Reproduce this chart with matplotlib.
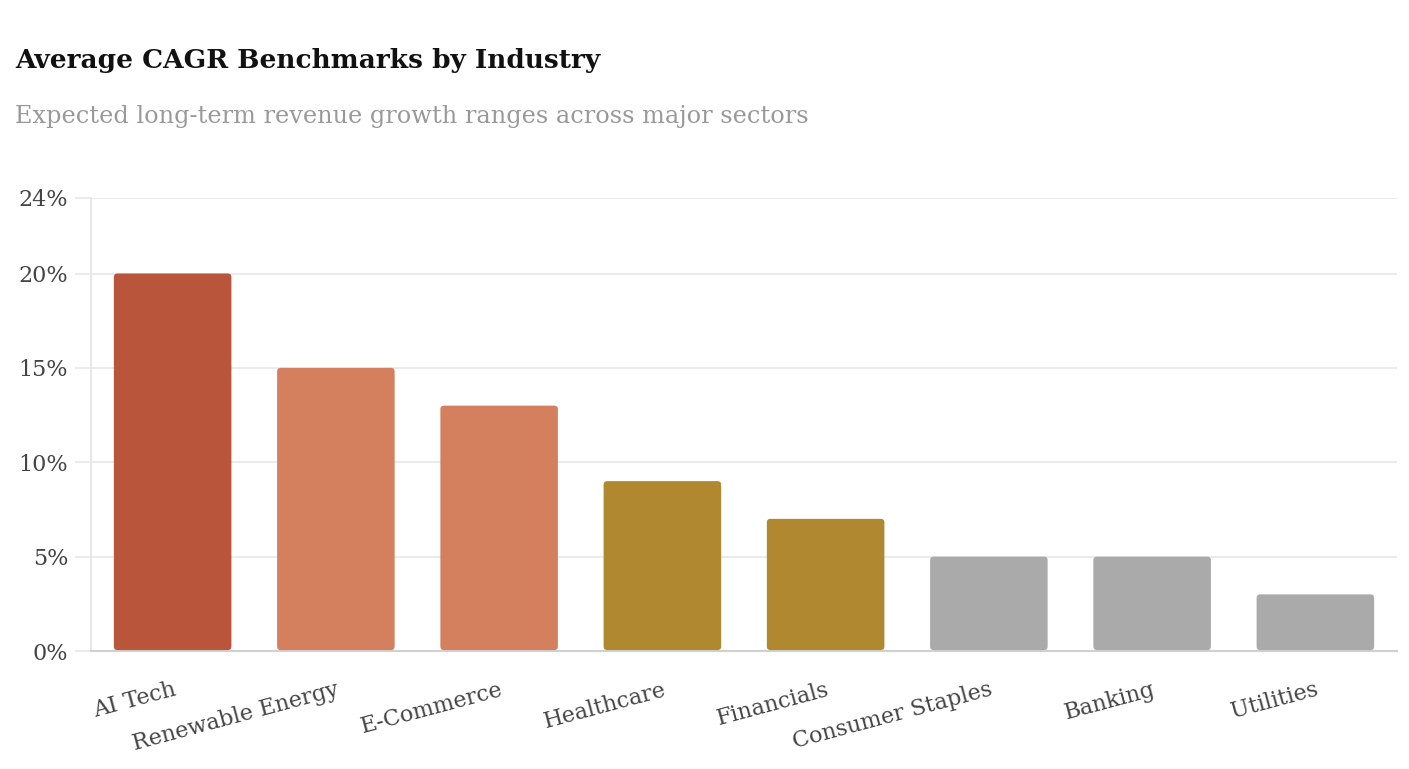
import matplotlib
matplotlib.use('Agg')
import matplotlib.pyplot as plt
from matplotlib.patches import FancyBboxPatch
from matplotlib.ticker import FuncFormatter

industries = ['AI Tech', 'Renewable Energy', 'E-Commerce', 'Healthcare',
              'Financials', 'Consumer Staples', 'Banking', 'Utilities']
cagr = [20, 15, 13, 9, 7, 5, 5, 3]
colors = ['#B9553A', '#D4805F', '#D4805F', '#B08830',
          '#B08830', '#AAAAAA', '#AAAAAA', '#AAAAAA']
yticks = [0, 5, 10, 15, 20, 24]

plt.rcParams['font.family'] = ['DejaVu Serif']

fig = plt.figure(figsize=(14.09, 7.69), dpi=100)
ax = fig.add_axes([91 / 1409, 1 - 651 / 769, 1306 / 1409, 453 / 769])

bars = ax.bar(range(len(industries)), cagr, width=0.72, color=colors, zorder=3)
# swap plain bars for slightly rounded ones
for b in bars:
    x, y = b.get_xy()
    w, h = b.get_width(), b.get_height()
    p = FancyBboxPatch((x, y + 0.05), w, h - 0.05, boxstyle='round,pad=0,rounding_size=0.022',
                       mutation_aspect=8.6, fc=b.get_facecolor(), ec='none', zorder=3)
    b.set_visible(False)
    ax.add_patch(p)

ax.set_xlim(-0.5, len(industries) - 0.5)
ax.set_ylim(0, 24)
ax.set_yticks(yticks)
ax.yaxis.set_major_formatter(FuncFormatter(lambda v, _: f'{v:.0f}%'))
ax.grid(axis='y', color='#E8E8E8', linewidth=1.2, zorder=0)
ax.set_xticks(range(len(industries)))
ax.set_xticklabels(industries, rotation=15, ha='right', rotation_mode='anchor')

ax.tick_params(axis='y', length=11.5, color='#E8E8E8', width=1.2, labelsize=16,
               labelcolor='#444444', pad=5)
ax.tick_params(axis='x', length=0, labelsize=16, labelcolor='#444444', pad=20)
for s in ['top', 'right']:
    ax.spines[s].set_visible(False)
ax.spines['left'].set_color('#E4E4E4')
ax.spines['left'].set_linewidth(1.2)
ax.spines['bottom'].set_color('#D0D0D0')
ax.spines['bottom'].set_linewidth(1.5)

fig.text(15 / 1409, 1 - 68 / 769, 'Average CAGR Benchmarks by Industry',
         fontsize=19, fontweight='bold', color='#111111', va='baseline')
fig.text(15 / 1409, 1 - 123 / 769, 'Expected long-term revenue growth ranges across major sectors',
         fontsize=17.3, color='#999999', va='baseline')

fig.savefig('out.png', dpi=100, facecolor='white')
